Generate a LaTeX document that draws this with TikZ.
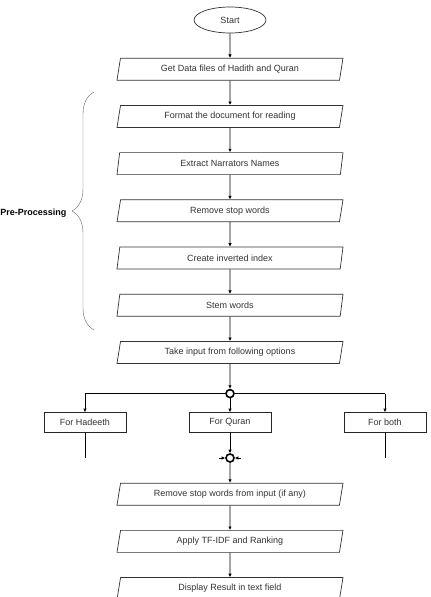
\documentclass[tikz,border=0pt]{standalone}
\usepackage{fontspec}
\setmainfont{Liberation Sans}
\usetikzlibrary{shapes.geometric, arrows.meta, positioning, calc, decorations.pathreplacing}

\begin{document}
\begin{tikzpicture}[
        x=1pt, y=-1pt,
        node distance=24.5pt and 1cm,
        line width=0.7pt,
        every node/.style={text=black!80, font=\fontsize{9}{10.5}\selectfont},
        io/.style={trapezium, draw=black!80, fill=white, trapezium left angle=67, trapezium right angle=113, trapezium stretches body, minimum width=226pt, minimum height=22pt, inner sep=0pt},
        opt/.style={rectangle, draw=black!85, fill=white, minimum width=82pt, minimum height=20pt, inner sep=0pt},
        dot/.style={circle, draw, line width=1.6pt, fill=white, minimum size=8pt, inner sep=0pt},
        arrow/.style={-{Latex[length=3.5pt, width=3.5pt]}}
    ]
        \clip (0,0) rectangle (431,597);

        \node[ellipse, draw=black!80, minimum width=72pt, minimum height=26pt] (start) at (230,20) {Start};
        \node[io, below=of start] (load) {Get Data files of Hadith and Quran};
        \node[io, below=of load] (format) {Format the document for reading};
        \node[io, below=of format] (narr) {Extract Narrators Names};
        \node[io, below=of narr] (stop) {Remove stop words};
        \node[io, below=of stop] (index) {Create inverted index};
        \node[io, below=of index] (stem) {Stem words};
        \node[io, below=of stem] (input) {Take input from following options};
        \node[dot, below=25pt of input] (split) {};

        % three search options
        \node[opt] (had) at (85,422.5) {For Hadeeth};
        \node[opt] (quran) at (230,422.5) {For Quran};
        \node[opt] (both) at (385,422.5) {For both};
        \node[dot] (merge) at (230,458) {};

        \node[io, below=20pt of merge] (query) {Remove stop words from input (if any)};
        \node[io, below=of query] (rank) {Apply TF-IDF and Ranking};
        \node[io, below=of rank] (show) {Display Result in text field};

        \draw[arrow] (start) -- (load);
        \draw[arrow] (load) -- (format);
        \draw[arrow] (format) -- (narr);
        \draw[arrow] (narr) -- (stop);
        \draw[arrow] (stop) -- (index);
        \draw[arrow] (index) -- (stem);
        \draw[arrow] (stem) -- (input);
        \draw[arrow] (input) -- (split);
        \draw (split -| had) -- (split.west);
        \draw (split.east) -- (split -| both);
        \draw[arrow] (split -| had) -- (had);
        \draw[arrow] (split) -- (quran);
        \draw[arrow] (split -| both) -- (both);
        \draw (had) -- (had |- merge);
        \draw (both) -- (both |- merge);
        \draw[arrow] (quran) -- (merge);
        \draw[arrow] ($(merge.west)+(-6,0)$) -- (merge.west);
        \draw[arrow] ($(merge.east)+(6,0)$) -- (merge.east);
        \draw[arrow] (merge) -- (query);
        \draw[arrow] (query) -- (rank);
        \draw[arrow] (rank) -- (show);

        % pre-processing group
        \draw[black!60, thin, decorate, decoration={brace, amplitude=22pt}] (94,330) -- (94,92);
        \node[anchor=east, font=\bfseries\fontsize{9}{10.5}\selectfont, text=black] (pre) at (70,213) {Pre-Processing};
    \end{tikzpicture}
\end{document}
